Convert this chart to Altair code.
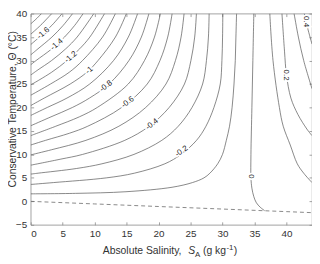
import altair as alt
import pandas as pd

# ---- data: contour vertices (S_A [g/kg], Theta [degC]) ----
c_m18 = [(0, 37.8), (0.97, 39), (1.68, 40)]
c_m17 = [(0, 35.6), (1.54, 37.5), (3.29, 40)]
c_m16 = [(0, 33.4), (1.36, 35), (3.31, 37.5), (4.91, 40)]
c_m15 = [(0, 31.2), (1.14, 32.5), (3.32, 35), (5.09, 37.5), (6.55, 40)]
c_m14 = [(0, 29.1), (0.84, 30), (3.31, 32.5), (5.29, 35), (6.89, 37.5), (8.2, 40)]
c_m13 = [(0, 26.9), (1.12, 28), (3.27, 30), (5.48, 32.5), (7.26, 35), (9.87, 40)]
c_m12 = [(0, 24.8), (3.27, 27.5), (5.69, 30), (7.66, 32.5), (9.25, 35), (11.55, 40)]
c_m11 = [(0, 22.6), (3.1, 25), (6.03, 27.5), (8.11, 30), (11.24, 35), (13.25, 40)]
c_m10 = [(0, 20.4), (2.11, 22), (6.18, 25), (8.78, 27.5), (10.53, 30), (13.25, 35), (14.97, 40)]
c_m09 = [(0, 18.3), (2.59, 20), (5.67, 22), (9.23, 25), (12.96, 30), (15.27, 35), (16.72, 40)]
c_m08 = [(0, 16.1), (3.17, 18), (6.52, 20), (9.19, 22), (12.26, 25), (15.37, 30), (17.31, 35), (18.49, 40)]
c_m07 = [(0, 14.0), (3.92, 16), (7.6, 18), (10.41, 20), (15.26, 25), (17.8, 30), (19.36, 35), (20.29, 40)]
c_m06 = [(0, 12.0), (2.33, 13), (6.03, 14.5), (8.92, 16), (14.23, 20), (18.23, 25), (20.22, 30), (21.43, 35), (22.12, 40)]
c_m05 = [(0, 9.9), (3.28, 11), (8.64, 13), (13.79, 16), (17.99, 20), (21.16, 25), (22.64, 30), (23.52, 35), (23.99, 40)]
c_m04 = [(0, 7.7), (4.72, 9), (8.12, 10), (14.72, 13), (18.52, 16), (21.66, 20), (24.05, 25), (25.06, 30), (25.65, 35), (25.92, 40)]
c_m03 = [(0, 5.8), (1.16, 6), (7.17, 7), (11.14, 8), (16.15, 10), (20.51, 13), (23.08, 16), (25.23, 20), (26.89, 25), (27.49, 30), (27.8, 35), (27.91, 40)]
c_m02 = [(0, 3.6), (3.57, 4), (11.82, 5), (16.22, 6), (20.98, 8), (23.52, 10), (25.94, 13), (27.41, 16), (28.66, 20), (29.65, 25), (29.91, 30), (30.01, 35), (30.05, 40)]
c_m01 = [(0, 1.6), (7, 1.7), (14.9, 2.05), (22.1, 3), (25.3, 4), (27.1, 5), (28.03, 6), (29.25, 8), (30.0, 10), (30.6, 13), (31.1, 16), (31.5, 20), (31.8, 25), (32.0, 30), (32.1, 35), (32.2, 40)]
c_000 = [(34.9, 40), (34.75, 30), (34.6, 20), (34.45, 10), (34.45, 5), (34.6, 2.8), (34.9, 1.0), (35.3, -0.3), (35.9, -1.25), (36.6, -2.0)]
c_p01 = [(37.4, 40), (37.9, 30), (38.9, 20), (39.5, 16), (40.6, 12), (41.7, 8), (42.7, 6), (44, 4)]
c_p02 = [(39.3, 40), (39.7, 32), (40.0, 27), (40.7, 22), (41.8, 18.5), (43.2, 15.4), (44, 14)]
c_p03 = [(41.2, 40), (41.87, 35), (42.7, 30), (44, 24)]
c_p04 = [(42.8, 40), (43.3, 37), (44, 33.5)]

# freezing line (dashed)
freeze_S = [0, 10, 20, 30, 40, 44]
freeze_T = [0.0, -0.55, -1.1, -1.64, -2.19, -2.41]

# contour labels
lab_text = ["-1.6", "-1.4", "-1.2", "-1", "-0.8", "-0.6", "-0.4", "-0.2", "0", "0.2", "0.4"]
lab_S = [2.0, 4.1, 6.3, 9.2, 11.8, 15.2, 19.0, 23.6, 34.45, 40.0, 43.1]
lab_T = [35.8, 33.4, 30.7, 27.9, 24.5, 21.1, 16.4, 10.6, 5.3, 26.9, 38.3]
lab_ang = [320, 320, 320, 320, 322, 322, 322, 325, 90, 90, 90]

x_ticks = [0, 5, 10, 15, 20, 25, 30, 35, 40]
y_ticks = [-5, 0, 5, 10, 15, 20, 25, 30, 35, 40]

contours = [
    (-1.8, c_m18), (-1.7, c_m17), (-1.6, c_m16), (-1.5, c_m15), (-1.4, c_m14),
    (-1.3, c_m13), (-1.2, c_m12), (-1.1, c_m11), (-1.0, c_m10), (-0.9, c_m09),
    (-0.8, c_m08), (-0.7, c_m07), (-0.6, c_m06), (-0.5, c_m05), (-0.4, c_m04),
    (-0.3, c_m03), (-0.2, c_m02), (-0.1, c_m01), (0.0, c_000), (0.1, c_p01),
    (0.2, c_p02), (0.3, c_p03), (0.4, c_p04),
]

rows = []
for lvl, pts in contours:
    for i, (s, t) in enumerate(pts):
        rows.append({"level": f"{lvl:.1f}", "i": i, "S": s, "T": t})
df = pd.DataFrame(rows)

fz = pd.DataFrame({"S": freeze_S, "T": freeze_T, "i": list(range(len(freeze_S)))})
lab = pd.DataFrame({"txt": lab_text, "S": lab_S, "T": lab_T, "ang": lab_ang})

FONT = "Liberation Sans"
AX = "#8a8a8a"
TXT = "#333333"

xs = alt.Scale(domain=[0, 44], nice=False, zero=False)
ys = alt.Scale(domain=[-5, 40], nice=False, zero=False)

common_axis = dict(offset=-3, tickSize=3, domain=False, grid=False, tickColor=AX,
                   tickWidth=0.8, labelFont=FONT, labelFontSize=10, labelColor=TXT, title=None)

lines = alt.Chart(df).mark_line(interpolate="catmull-rom", color="#555555",
                                strokeWidth=0.7, clip=True).encode(
    x=alt.X("S:Q", scale=xs, axis=alt.Axis(values=x_ticks, labelPadding=4, **common_axis)),
    y=alt.Y("T:Q", scale=ys, axis=alt.Axis(values=y_ticks, labelPadding=4, **common_axis)),
    detail="level:N",
    order="i:Q",
)

freeze = alt.Chart(fz).mark_line(color="#6a6a6a", strokeWidth=0.8, strokeDash=[4, 3], clip=True).encode(
    x=alt.X("S:Q", scale=xs, axis=alt.Axis(orient="top", values=x_ticks, labels=False, **common_axis)),
    y=alt.Y("T:Q", scale=ys, axis=alt.Axis(orient="right", values=y_ticks, labels=False, **common_axis)),
    order="i:Q",
)

halo = alt.Chart(lab).mark_text(font=FONT, fontSize=8, stroke="white", strokeWidth=3.5,
                                fill="white").encode(
    x=alt.X("S:Q", scale=xs, axis=None),
    y=alt.Y("T:Q", scale=ys, axis=None),
    text="txt:N",
    angle=alt.Angle("ang:Q", scale=None),
)
texts = alt.Chart(lab).mark_text(font=FONT, fontSize=8, color="#222222").encode(
    x=alt.X("S:Q", scale=xs, axis=None),
    y=alt.Y("T:Q", scale=ys, axis=None),
    text="txt:N",
    angle=alt.Angle("ang:Q", scale=None),
)

# axis titles built from text pieces (for italic / sub / superscripts)
def piece(txt, x, y, size=10.5, style="normal"):
    return alt.Chart(pd.DataFrame({"t": [txt]})).mark_text(
        font=FONT, fontSize=size, fontStyle=style, align="left", baseline="alphabetic", color=TXT
    ).encode(text="t:N", x=alt.value(x), y=alt.value(y))

BY = 244
xt = [
    piece("Absolute Salinity,", 73, BY),
    piece("S", 159.5, BY, style="italic"),
    piece("A", 166.5, BY + 3, size=8),
    piece("(g kg", 174.5, BY),
    piece("-1", 198.3, BY - 4.5, size=8),
    piece(")", 205.8, BY),
]

ytitle = alt.Chart(pd.DataFrame({"t": ["Conservative Temperature,  \u0398 (\u00b0C)"]})).mark_text(
    font=FONT, fontSize=10.5, angle=270, align="center", baseline="middle", color=TXT
).encode(text="t:N", x=alt.value(-18), y=alt.value(97))

chart = alt.layer(lines, freeze, halo, texts, ytitle, *xt).resolve_axis(
    x="independent", y="independent"
).properties(
    width=285, height=214,
    padding={"left": 23, "top": 4, "right": 0, "bottom": 36},
    autosize=alt.AutoSizeParams(type="none"),
).configure_view(stroke=AX, strokeWidth=0.8)

chart.save("out.html", embed_options={"renderer": "svg", "actions": False})
